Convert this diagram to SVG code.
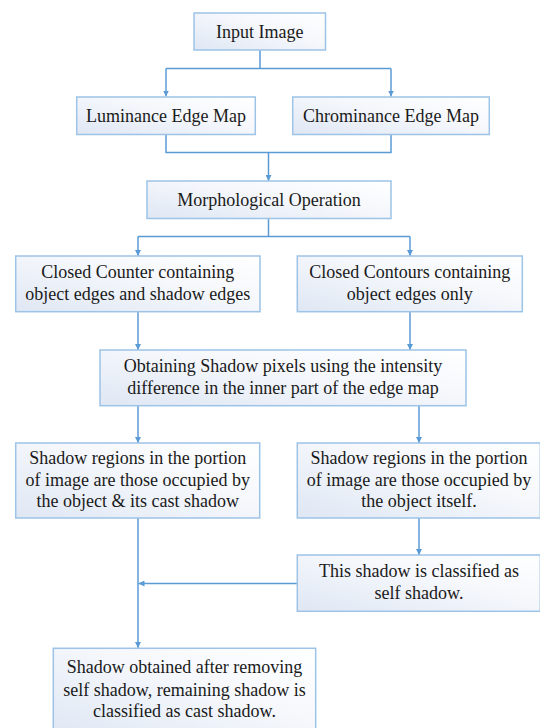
<svg xmlns="http://www.w3.org/2000/svg" width="540" height="728" viewBox="0 0 540 728">
<defs>
<linearGradient id="fill" x1="0" y1="1" x2="1" y2="0">
<stop offset="0" stop-color="#dfe7f4"/>
<stop offset="0.6" stop-color="#f6f8fc"/>
<stop offset="1" stop-color="#ffffff"/>
</linearGradient>
<marker id="arr" viewBox="0 0 10 10" refX="10" refY="5" markerWidth="6" markerHeight="6" markerUnits="userSpaceOnUse" orient="auto">
<path d="M0,0 L10,5 L0,10 z" fill="#5b9bd5"/>
</marker>
<style>
.box{fill:url(#fill);stroke:#9dc3e6;stroke-width:1.5}
.c{fill:none;stroke:#5b9bd5;stroke-width:1.5}
</style>
</defs>
<rect width="540" height="728" fill="#ffffff"/>
<g id="connectors">
<path class="c" d="M260,50 V68.5 M166,68.5 H391"/>
<path class="c" d="M166,68.5 V96.5" marker-end="url(#arr)"/>
<path class="c" d="M391,68.5 V96.5" marker-end="url(#arr)"/>
<path class="c" d="M166,134.5 V152.5 H391 V134.5"/>
<path class="c" d="M268.5,152.5 V181" marker-end="url(#arr)"/>
<path class="c" d="M268.5,218.5 V236.5 M138,236.5 H410"/>
<path class="c" d="M138,236.5 V256" marker-end="url(#arr)"/>
<path class="c" d="M410,236.5 V256" marker-end="url(#arr)"/>
<path class="c" d="M138,311.5 V350" marker-end="url(#arr)"/>
<path class="c" d="M410,311.5 V350" marker-end="url(#arr)"/>
<path class="c" d="M138,405.5 V443" marker-end="url(#arr)"/>
<path class="c" d="M419,405.5 V443" marker-end="url(#arr)"/>
<path class="c" d="M419,518 V555" marker-end="url(#arr)"/>
<path class="c" d="M297.5,583.5 H138.5" marker-end="url(#arr)"/>
<path class="c" d="M138,518 V648" marker-end="url(#arr)"/>
</g>
<g font-family="Liberation Serif, DejaVu Serif, serif" font-size="18" fill="#1a1a1a" text-anchor="middle">
<g id="input">
<rect class="box" x="194" y="13" width="131.5" height="37"/>
<text x="259.7" y="37.5">Input Image</text>
</g>
<g id="luminance">
<rect class="box" x="76.7" y="97" width="178.6" height="37.5"/>
<text x="166" y="121.8">Luminance Edge Map</text>
</g>
<g id="chrominance">
<rect class="box" x="292.7" y="97" width="196.6" height="37.5"/>
<text x="391" y="121.8">Chrominance Edge Map</text>
</g>
<g id="morph">
<rect class="box" x="147" y="181" width="244" height="37.5"/>
<text x="269" y="205.8">Morphological Operation</text>
</g>
<g id="closedCounter">
<rect class="box" x="15.7" y="256" width="244.3" height="55.7"/>
<text x="137.8" y="278.3">Closed Counter containing</text>
<text x="137.8" y="300">object edges and shadow edges</text>
</g>
<g id="closedContours">
<rect class="box" x="297.3" y="256" width="225" height="55.7"/>
<text x="409.8" y="278.3">Closed Contours containing</text>
<text x="409.8" y="300">object edges only</text>
</g>
<g id="obtaining">
<rect class="box" x="100" y="350" width="366" height="55.7"/>
<text x="283" y="372.3">Obtaining Shadow pixels using the intensity</text>
<text x="283" y="394">difference in the inner part of the edge map</text>
</g>
<g id="shadowLeft">
<rect class="box" x="15.7" y="443" width="244" height="75"/>
<text x="137.7" y="464">Shadow regions in the portion</text>
<text x="137.7" y="485.7">of image are those occupied by</text>
<text x="137.7" y="507.3">the object &amp; its cast shadow</text>
</g>
<g id="shadowRight">
<rect class="box" x="297.3" y="443" width="243" height="75"/>
<text x="419" y="464">Shadow regions in the portion</text>
<text x="419" y="485.7">of image are those occupied by</text>
<text x="419" y="507.3">the object itself.</text>
</g>
<g id="selfShadow">
<rect class="box" x="297.3" y="555" width="243" height="56.3"/>
<text x="419" y="577.3">This shadow is classified as</text>
<text x="419" y="599">self shadow.</text>
</g>
<g id="castShadow">
<rect class="box" x="53.3" y="648.3" width="262.4" height="90"/>
<text x="184.5" y="673.3">Shadow obtained after removing</text>
<text x="184.5" y="695.5">self shadow, remaining shadow is</text>
<text x="184.5" y="717.3">classified as cast shadow.</text>
</g>
</g>
</svg>
